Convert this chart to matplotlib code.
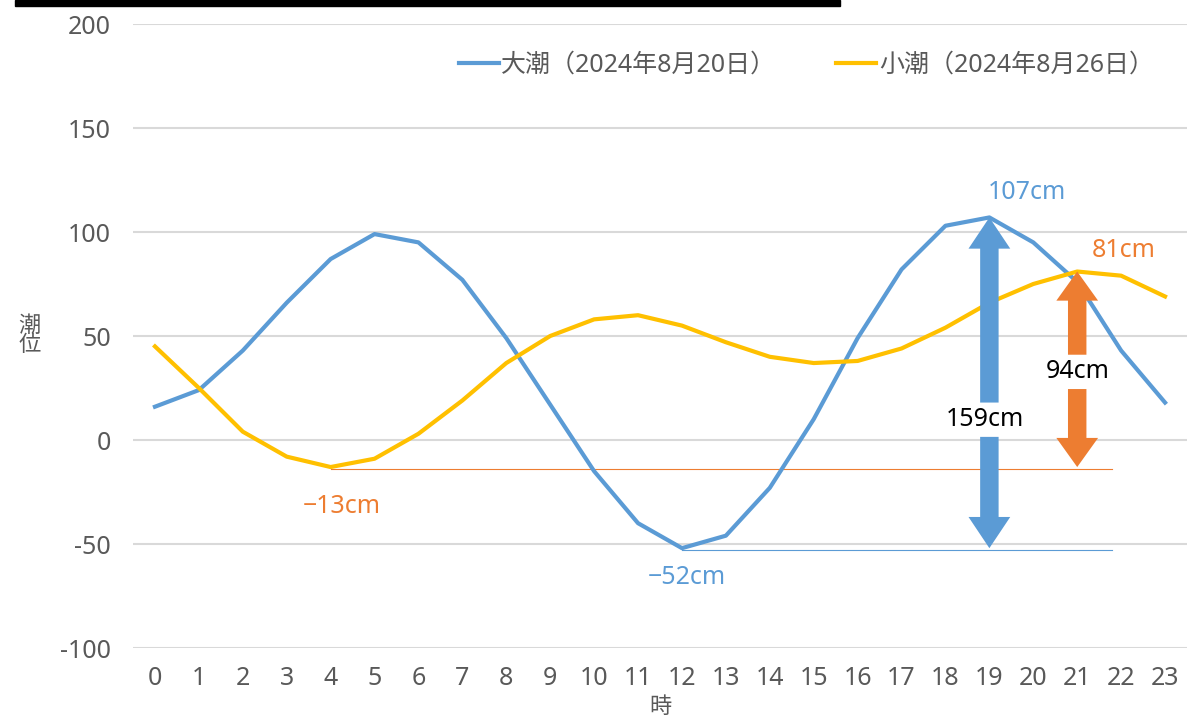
import matplotlib.pyplot as plt
from matplotlib.patches import Rectangle

plt.rcParams['font.family'] = ['Noto Sans', 'Noto Sans CJK JP', 'DejaVu Sans']
plt.rcParams['axes.unicode_minus'] = False

hours = list(range(24))
# 大潮 2024-08-20, 小潮 2024-08-26 (cm)
ooshio = [16, 24, 43, 66, 87, 99, 95, 77, 49, 17, -15, -40, -52, -46, -23, 10, 49, 82, 103, 107, 95, 76, 43, 18]
koshio = [45, 25, 4, -8, -13, -9, 3, 19, 37, 50, 58, 60, 55, 47, 40, 37, 38, 44, 54, 66, 75, 81, 79, 69]
yticks = [-100, -50, 0, 50, 100, 150, 200]

BLUE = '#5B9BD5'
YELLOW = '#FFC000'
ORANGE = '#ED7D31'
GRAY = '#595959'

fig = plt.figure(figsize=(11.87, 7.18), dpi=100)
ax = fig.add_axes([133 / 1187, 1 - 648 / 718, 1 - 133 / 1187, (648 - 24) / 718])

ax.plot(hours, ooshio, color=BLUE, lw=3, label='大潮（2024年8月20日）', zorder=3)
ax.plot(hours, koshio, color=YELLOW, lw=3, label='小潮（2024年8月26日）', zorder=3)

ax.set_xlim(-0.5, 23.5)
ax.set_ylim(-100, 200)
ax.set_xticks(hours)
ax.set_yticks(yticks)
ax.grid(axis='y', color='#D9D9D9', lw=1.5)
ax.set_axisbelow(True)
for s in ax.spines.values():
    s.set_visible(False)
ax.tick_params(length=0, labelsize=18, labelcolor=GRAY)
ax.tick_params(axis='y', pad=16)
ax.tick_params(axis='x', pad=13)
ax.set_xlabel('時', fontsize=16, color=GRAY, labelpad=4)
ax.set_ylabel('潮\n位', fontsize=16, color=GRAY, rotation=0, linespacing=0.85,
              va='center', ha='center')
ax.yaxis.set_label_coords(-0.098, 0.5)

# extremes
lo_b = min(ooshio)
hi_b = max(ooshio)
lo_k = min(koshio)
hi_k = max(koshio)
i_lo_b = ooshio.index(lo_b)
i_hi_b = ooshio.index(hi_b)
i_lo_k = koshio.index(lo_k)
i_hi_k = koshio.index(hi_k)

ax.plot([i_lo_k, 21.8], [lo_k - 1, lo_k - 1], color=ORANGE, lw=0.8, zorder=2)
ax.plot([i_lo_b, 21.8], [lo_b - 1, lo_b - 1], color=BLUE, lw=0.8, zorder=2)


def double_arrow(x, top, bottom, gap_top, gap_bot, color, head_len):
    kw = dict(width=0.42, head_width=0.95, head_length=head_len,
              length_includes_head=True, color=color, lw=0, zorder=4)
    ax.arrow(x, gap_top, 0, top - gap_top, **kw)
    ax.arrow(x, gap_bot, 0, bottom - gap_bot, **kw)


double_arrow(i_hi_b, hi_b, lo_b, 18, 1.5, BLUE, 15)
double_arrow(i_hi_k, hi_k, lo_k, 41, 24.5, ORANGE, 14)

ax.text(i_hi_b - 0.1, 9.7, f'{hi_b - lo_b}cm', fontsize=18, color='black', ha='center', va='center', zorder=5)
ax.text(i_hi_k, 32.7, f'{hi_k - lo_k}cm', fontsize=18, color='black', ha='center', va='center', zorder=5)

ax.text(i_hi_b + 0.85, hi_b + 6, f'{hi_b}cm', fontsize=18, color=BLUE, ha='center', va='bottom')
ax.text(i_hi_k + 1.05, hi_k + 4, f'{hi_k}cm', fontsize=18, color=ORANGE, ha='center', va='bottom')
ax.text(i_lo_k + 0.25, lo_k - 13, f'\u2212{abs(lo_k)}cm', fontsize=18, color=ORANGE, ha='center', va='top')
ax.text(i_lo_b + 0.1, lo_b - 8, f'\u2212{abs(lo_b)}cm', fontsize=18, color=BLUE, ha='center', va='top')

leg = ax.legend(loc='upper right', bbox_to_anchor=(0.99, 0.99), ncol=2, frameon=False,
                fontsize=18, handlelength=1.6, handletextpad=0.1, columnspacing=2.4)
for t in leg.get_texts():
    t.set_color(GRAY)

# underline of the heading above the chart
fig.patches.append(Rectangle((15 / 1187, 1 - 6 / 718), 825 / 1187, 6 / 718,
                             transform=fig.transFigure, color='black'))

fig.savefig('out.png', dpi=100)
